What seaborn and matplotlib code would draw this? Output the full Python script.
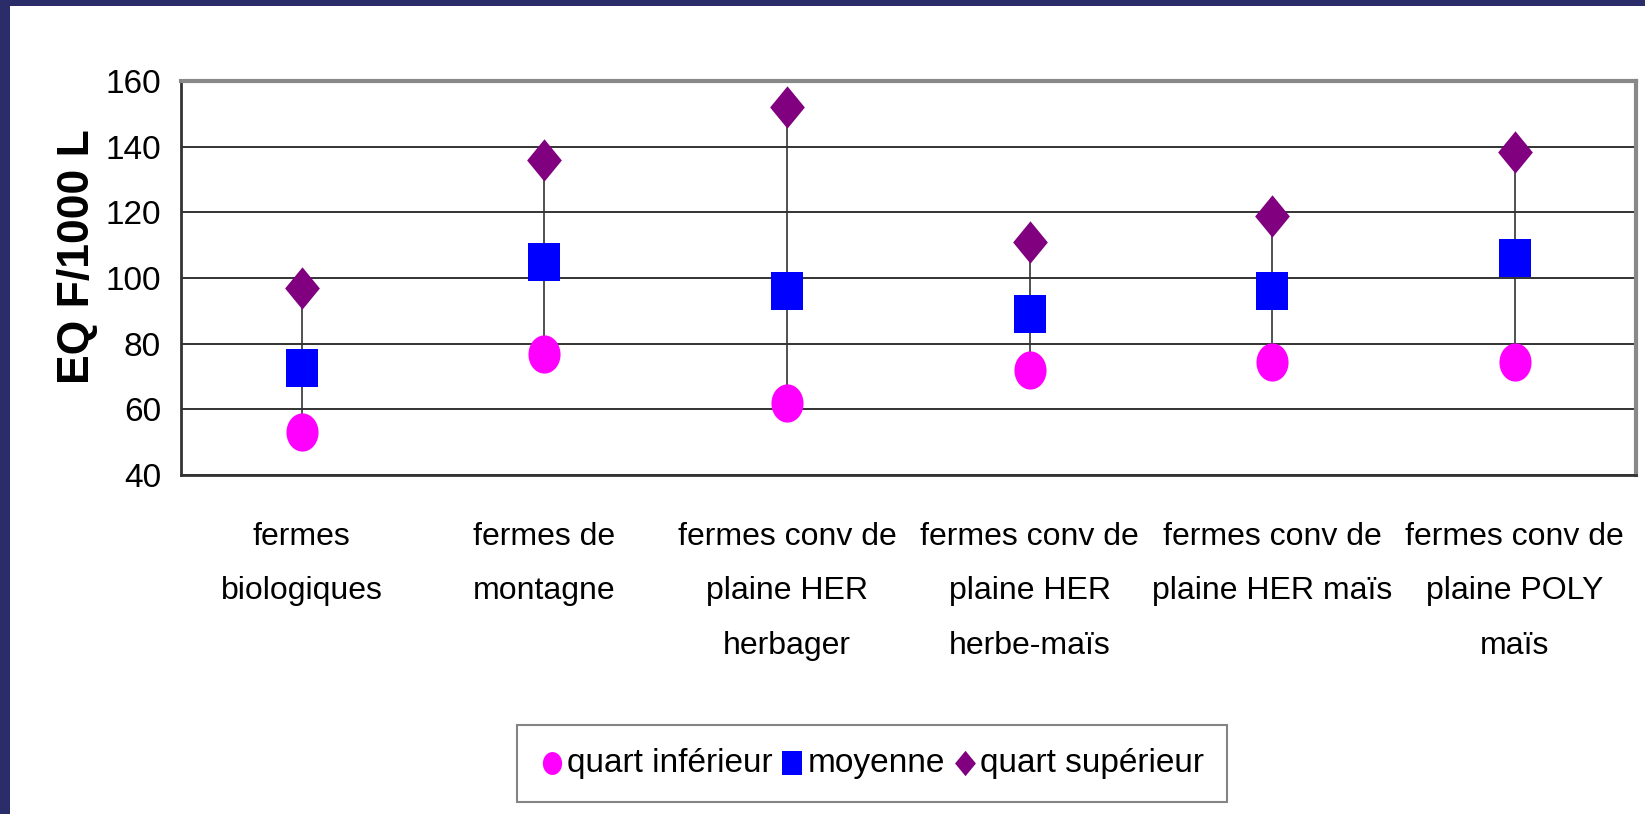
import numpy as np
import pandas as pd
import seaborn as sns
import matplotlib.pyplot as plt
from matplotlib.path import Path
from matplotlib.patches import Rectangle
from matplotlib import font_manager

categories = ["fermes\nbiologiques", "fermes de\nmontagne",
              "fermes conv de\nplaine HER\nherbager", "fermes conv de\nplaine HER\nherbe-maïs",
              "fermes conv de\nplaine HER maïs", "fermes conv de\nplaine POLY\nmaïs"]
quart_inf = [53, 77, 62, 72, 74.5, 74.5]
moyenne = [72.5, 105, 96, 89, 96, 106]
quart_sup = [97, 136, 152, 111, 119, 138.5]
yticks = [40, 60, 80, 100, 120, 140, 160]

series = ["quart inférieur", "moyenne", "quart supérieur"]
colors = {"quart inférieur": "#FF00FF", "moyenne": "#0000FF", "quart supérieur": "#800080"}

df = pd.DataFrame({
    "cat": categories * 3,
    "val": quart_inf + moyenne + quart_sup,
    "serie": [s for s in series for _ in categories],
})

# stretched markers like the original (tall ellipse / rect / diamond)
t = np.linspace(0, 2 * np.pi, 60)
ellipse = Path(np.column_stack([0.84 * np.cos(t), np.sin(t)]), closed=True)
rect = Path([(-0.84, -1), (0.84, -1), (0.84, 1), (-0.84, 1), (-0.84, -1)], closed=True)
diamond = Path([(0, -1), (0.82, 0), (0, 1), (-0.82, 0), (0, -1)], closed=True)
markers = {"quart inférieur": ellipse, "moyenne": rect, "quart supérieur": diamond}
sizes = {"quart inférieur": 27.5 ** 2, "moyenne": 28 ** 2, "quart supérieur": 30.5 ** 2}

names = [f.name for f in font_manager.fontManager.ttflist]
fam = "Liberation Sans Narrow" if "Liberation Sans Narrow" in names else "Liberation Sans"
fs = 27 if fam == "Liberation Sans Narrow" else 24

sns.set_style("white")
plt.rcParams["font.family"] = [fam, "DejaVu Sans"]
plt.rcParams["text.color"] = "black"
plt.rcParams["xtick.color"] = "black"
plt.rcParams["ytick.color"] = "black"

fig = plt.figure(figsize=(16.45, 8.14), dpi=100)
fig.patch.set_facecolor("#2b2c6a")
fig.patches.append(Rectangle((10 / 1645, 0), 1, 1 - 6 / 814, transform=fig.transFigure,
                             facecolor="white", edgecolor="none", zorder=-5))
ax = fig.add_axes([180.5 / 1645, 1 - 475 / 814, (1636 - 180.5) / 1645, (475 - 81) / 814])
ax.set_zorder(2)
ax.set_facecolor("white")

x = np.arange(len(categories))
ax.vlines(x, quart_inf, quart_sup, color="#333333", lw=1.2, zorder=2)

for s in series:
    sns.scatterplot(data=df[df.serie == s], x="cat", y="val", marker=markers[s], s=sizes[s],
                    color=colors[s], linewidth=0, ax=ax, label=s, zorder=3)

ax.set_xlim(-0.5, len(categories) - 0.5)
ax.set_ylim(40, 160)
ax.set_yticks(yticks)
ax.yaxis.grid(True, color="#111111", lw=1.2)
ax.set_axisbelow(True)

ax.set_xticks(np.arange(-0.5, len(categories)), labels=[""] * (len(categories) + 1))
ax.set_xticks(x, labels=categories, minor=True)
ax.tick_params(axis="x", which="major", direction="inout", length=18, width=1.2, color="#222222")
ax.tick_params(axis="x", which="minor", length=0, pad=34, labelsize=fs - 1, labelcolor="black")
ax.tick_params(axis="y", direction="inout", length=12, width=1.2, color="#222222", labelsize=fs,
               labelcolor="black", pad=8)
for lab in ax.get_xticklabels(minor=True):
    lab.set_linespacing(2.05)

for side in ["left", "bottom"]:
    ax.spines[side].set_color("#333333")
    ax.spines[side].set_linewidth(2)
for side in ["top", "right"]:
    ax.spines[side].set_color("#888888")
    ax.spines[side].set_linewidth(3)

ax.set_xlabel("")
ax.set_ylabel("EQ F/1000 L", fontsize=32, fontweight="bold", color="black",
              family=["Liberation Sans", "DejaVu Sans"])
ax.yaxis.set_label_coords(-0.057, 0.555)

handles, labels = ax.get_legend_handles_labels()
ax.legend_.remove()
leg = fig.legend(handles, labels, loc="center", bbox_to_anchor=(0.530, 0.062), ncol=3, fontsize=fs,
                 markerscale=0.6, handletextpad=0.1, columnspacing=0.25, handlelength=0.7,
                 frameon=True, fancybox=False, edgecolor="#666666", borderpad=0.7)
leg.get_frame().set_linewidth(1.5)
leg.set_zorder(3)

fig.savefig("out.png", dpi=100, facecolor=fig.get_facecolor())
